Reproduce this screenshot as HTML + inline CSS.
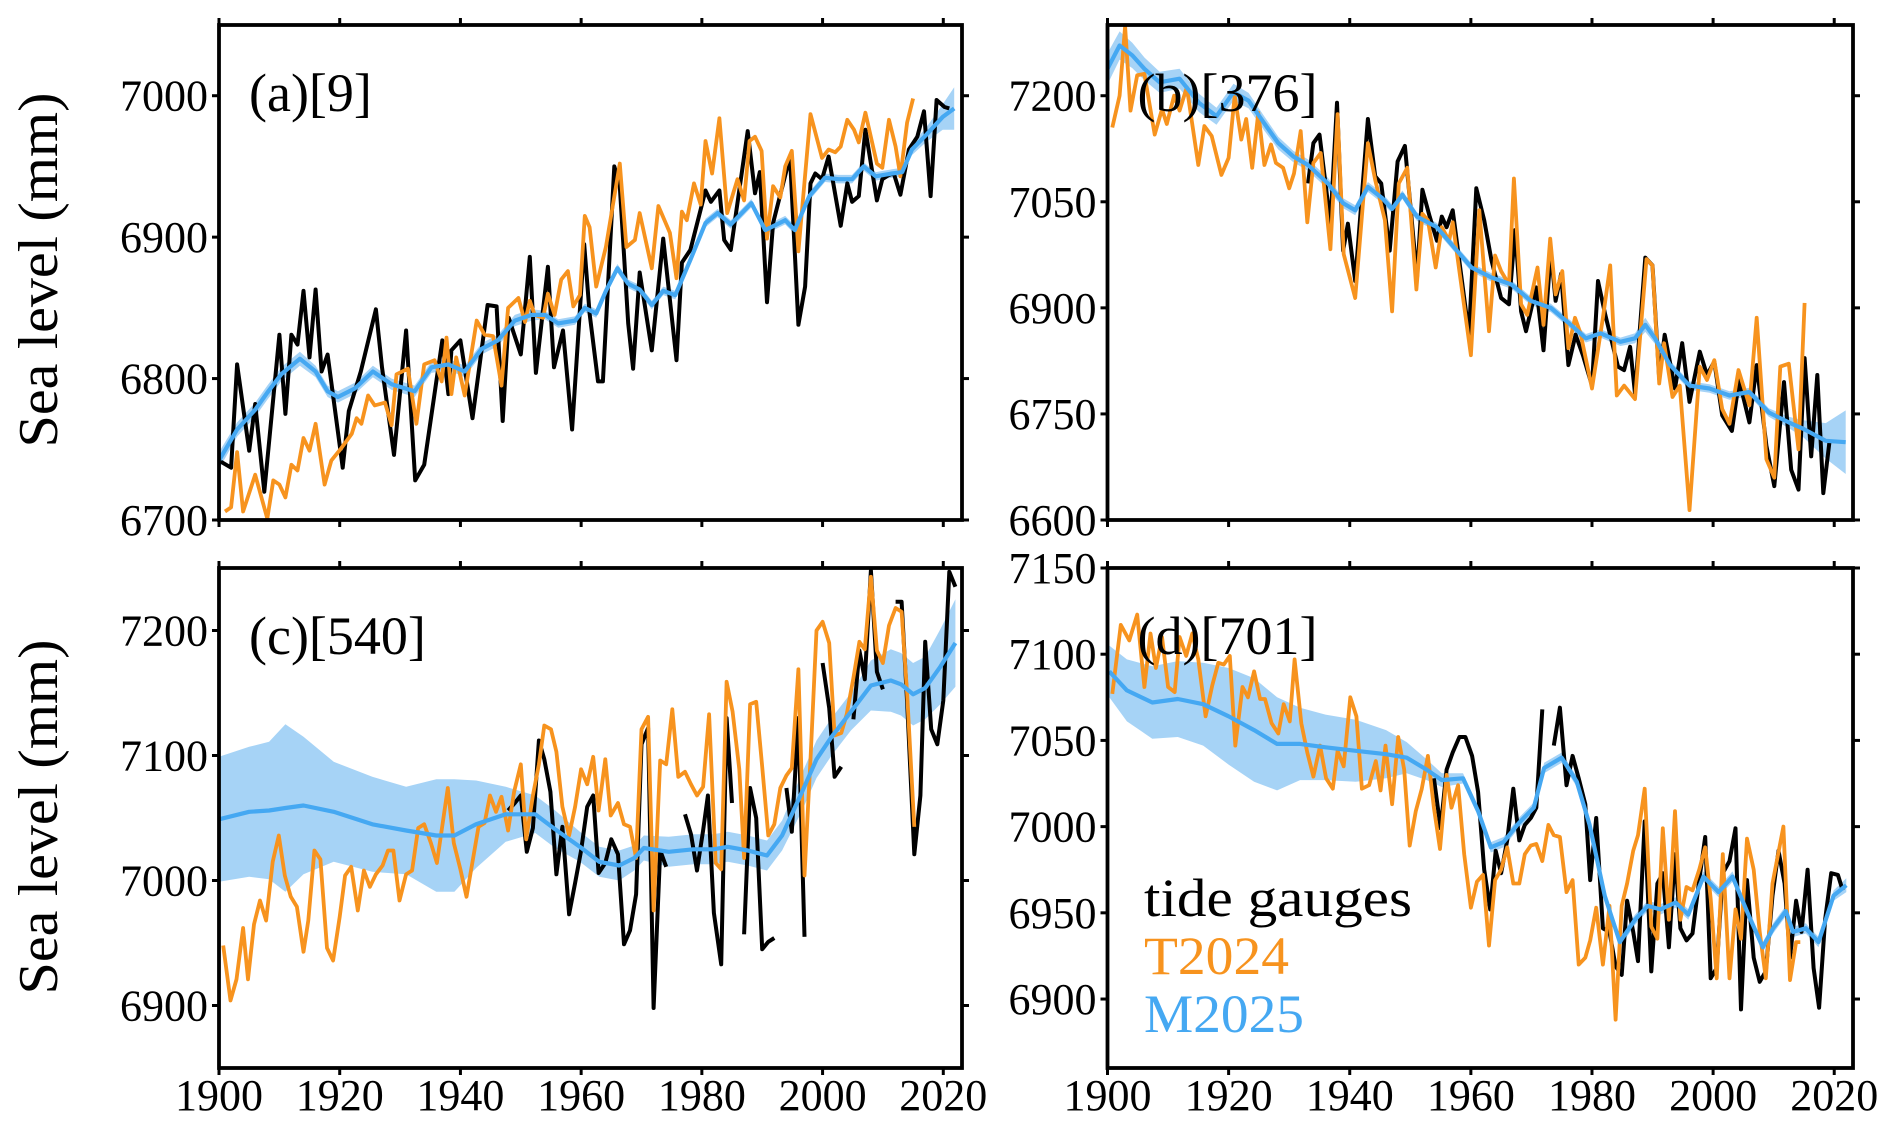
<!DOCTYPE html>
<html><head><meta charset="utf-8"><title>Sea level comparison</title>
<style>
html,body{margin:0;padding:0;background:#fff;}
svg{display:block;}
svg text{font-family:"Liberation Serif","DejaVu Serif",serif;}
</style></head>
<body>
<svg id="chart" width="1892" height="1121" viewBox="0 0 1892 1121" xmlns="http://www.w3.org/2000/svg" font-family="Liberation Serif, serif">
<text font-family="Liberation Serif, serif" transform="translate(57,270) rotate(-90)" text-anchor="middle" font-size="56" textLength="355" lengthAdjust="spacingAndGlyphs">Sea level (mm)</text>
<text font-family="Liberation Serif, serif" transform="translate(57,817) rotate(-90)" text-anchor="middle" font-size="56" textLength="355" lengthAdjust="spacingAndGlyphs">Sea level (mm)</text>
<g id="legend" font-family="Liberation Serif, serif">
<text x="1144" y="916" font-size="54" fill="#000" textLength="268" lengthAdjust="spacingAndGlyphs">tide gauges</text>
<text x="1144" y="974" font-size="54" fill="#F7931E" textLength="145" lengthAdjust="spacingAndGlyphs">T2024</text>
<text x="1144" y="1032" font-size="54" fill="#45A8F2" textLength="160" lengthAdjust="spacingAndGlyphs">M2025</text>
</g>
</svg>
<script>
// ---------- Panel (a) [9] ----------
const aTgYears=[1900,1902,1903,1905,1906,1907.5,1910,1911,1912,1913,1914,1915,1916,1917,1918,1920.5,1921.5,1923.5,1926,1927,1929,1931,1932.5,1934,1937,1938,1938.5,1940,1942,1944.5,1946,1947,1948,1950,1951.5,1952.5,1954.5,1955.5,1957,1958.5,1960.5,1961.4,1962.8,1963.6,1965.5,1966.4,1967.8,1968.6,1969.7,1971.7,1973.6,1975.8,1976.7,1978.1,1980.6,1981.5,1982.9,1983.7,1984.8,1987.6,1988.8,1989.6,1990.8,1991.8,1994.6,1996,1997.1,1998,1998.8,1999.9,2001,2003,2004.1,2004.9,2006,2007.1,2009,2009.9,2011,2011.8,2012.9,2014.3,2015.7,2016.8,2017.9,2018.9,2020.2,2021];
const aTgVals=[6742,6737,6810,6749,6782,6720,6831,6775,6831,6824,6862,6815,6863,6805,6817,6737,6777,6805,6849,6808,6746,6834,6728,6739,6827,6789,6820,6827,6772,6852,6851,6770,6843,6817,6886,6804,6879,6808,6834,6764,6895,6846,6798,6798,6950,6936,6839,6807,6875,6820,6899,6813,6882,6891,6933,6925,6933,6898,6891,6975,6931,6946,6854,6910,6957,6838,6865,6938,6945,6941,6957,6908,6938,6925,6929,6976,6926,6941,6944,6945,6930,6962,6971,6989,6929,6997,6992,6991];
const aT24Years=[1901,1902,1903,1904,1906,1908,1909,1910,1911,1912,1913,1914,1915,1916,1917.5,1918.6,1920.3,1922,1922.8,1923.6,1924.7,1925.8,1927.5,1928.6,1929.4,1931.3,1932.7,1934,1935.7,1936.9,1937.7,1938.5,1939.3,1940.7,1942.7,1944,1945.4,1946.8,1947.9,1949.6,1950.7,1951.5,1952.3,1953.7,1954.5,1955.6,1956.7,1957.8,1958.7,1959.8,1960.6,1961.4,1962.5,1964.1,1966.4,1967.5,1968.9,1969.7,1971.7,1972.8,1974.7,1975.8,1976.7,1977.5,1978.7,1979.8,1980.6,1981.7,1982.9,1984.2,1985.9,1987,1987.9,1988.8,1989.9,1990.8,1991.8,1993,1993.8,1994.9,1996,1998,1999.9,2001,2002.1,2003,2004.1,2005.2,2006,2007.1,2009,2009.9,2011,2012.1,2012.9,2014,2015];
const aT24Vals=[6706,6709,6748,6706,6732,6701,6728,6725,6716,6739,6735,6758,6749,6768,6725,6742,6751,6761,6772,6768,6788,6781,6783,6767,6803,6807,6768,6810,6813,6798,6829,6789,6815,6788,6841,6831,6830,6795,6850,6857,6840,6855,6845,6843,6860,6845,6870,6876,6851,6859,6915,6907,6865,6893,6952,6893,6898,6917,6878,6922,6903,6871,6918,6912,6938,6923,6968,6945,6984,6917,6941,6926,6968,6971,6961,6899,6936,6928,6950,6961,6890,6987,6956,6962,6960,6964,6983,6976,6967,6988,6952,6949,6983,6964,6943,6981,6998];
const aMYears=[1900,1903,1906,1908,1910.3,1913.4,1916,1918,1919.7,1922.5,1925.5,1928.6,1932.4,1935.2,1938,1940.7,1943.5,1946.2,1949,1951.8,1954,1956.2,1959,1960.6,1962.5,1964.1,1966,1967.8,1969.7,1971.7,1973.6,1975.6,1978.1,1980.6,1982.6,1984.8,1988.2,1990.5,1993.8,1995.4,1997.8,2000.4,2002.6,2004.9,2006.8,2008.8,2011.5,2013.2,2014.8,2017.1,2019.9,2021.8];
const aMVals=[6742,6764,6778,6790,6803,6814,6805,6791,6787,6793,6805,6796,6791,6808,6810,6805,6821,6827,6841,6845,6845,6839,6841,6850,6846,6862,6878,6867,6863,6852,6862,6859,6884,6910,6917,6909,6924,6905,6912,6905,6929,6942,6941,6941,6950,6943,6945,6946,6962,6972,6985,6991];
const aMHalf=[6,5,5,5,5,5,4,4,4,4,4,4,4,4,4,4,4,4,4,4,3,3,3,3,3,3,3,3,3,3,3,3,3,3,3,3,3,3,3,3,3,3,3,3,3,3,3,3,4,5,9,15];

// ---------- Panel (b) [376] ----------
const bTgYears=[1933.1,1934,1935,1936.8,1937.9,1938.9,1939.7,1940.9,1943,1944.2,1945.2,1946.6,1947.9,1949.1,1951.1,1952,1953.2,1954.4,1955.2,1956,1957,1959.7,1960.9,1962.2,1963.4,1965,1966.3,1967.3,1968.3,1969.1,1970.8,1972,1973.2,1974,1974.9,1976.1,1977.3,1978.5,1980,1981,1982.2,1984.3,1985.3,1986.3,1987.1,1988.8,1990,1991.1,1992,1993.7,1994.9,1996.1,1997.8,1999,2000.2,2001.5,2003.1,2004.3,2006,2007.2,2008.8,2010.1,2011.7,2012.9,2014.1,2015.1,2016.2,2017.2,2018.2,2019.2];
const bTgVals=[7076,7133,7145,7019,7190,6981,7019,6938,7167,7086,7076,6981,7107,7129,6943,7067,7029,6995,7029,7014,7038,6862,7069,7024,6967,6914,6905,7010,6895,6867,6929,6840,6981,6910,6948,6819,6862,6833,6790,6938,6890,6817,6812,6845,6779,6971,6960,6800,6862,6786,6850,6767,6838,6805,6824,6748,6726,6798,6738,6819,6705,6648,6795,6671,6643,6829,6690,6805,6638,6710];
const bT24Years=[1900.8,1902,1902.9,1903.8,1904.9,1906.1,1907.8,1909,1909.8,1911,1911.9,1913.1,1915,1916,1917.2,1918.8,1920,1921,1922.1,1922.9,1923.9,1924.9,1925.9,1927,1927.8,1929,1930,1930.8,1931.9,1933,1934,1935.2,1936.8,1938,1939,1940.9,1943,1944.2,1945.8,1947,1948.1,1949.5,1951,1952,1952.9,1954.2,1955.2,1956.4,1957,1960,1961.4,1963,1964,1965,1966.3,1967.1,1968.3,1969.3,1971,1972,1973.1,1974,1975.1,1976.1,1977.2,1978.1,1980,1981.8,1983,1984.1,1985.3,1987.1,1989,1990,1991.1,1991.9,1993.3,1994.5,1996.1,1997.8,1999,2000.2,2001.5,2002.7,2004.2,2006,2007.2,2008.8,2010.1,2011.1,2012.5,2014.1,2015.1];
const bT24Vals=[7155,7200,7298,7179,7229,7231,7145,7181,7160,7200,7179,7212,7102,7157,7143,7088,7112,7200,7138,7167,7098,7176,7102,7131,7105,7098,7069,7090,7150,7021,7105,7119,6983,7174,6976,6914,7133,7081,7024,6895,7076,7098,6926,7033,7024,6957,7014,6995,7021,6833,7038,6867,6974,6952,6933,7083,6905,6890,6957,6876,6998,6919,6952,6843,6886,6864,6786,6886,6960,6776,6790,6771,6969,6960,6793,6850,6774,6790,6614,6817,6798,6826,6757,6736,6812,6762,6886,6686,6660,6817,6821,6700,6907];
const bMYears=[1900,1902,1904.1,1906.1,1908.6,1911.9,1915.1,1918,1920.8,1923.3,1925.8,1928.2,1930.7,1933.1,1936.4,1938.9,1940.9,1943,1945.4,1947,1948.7,1951.1,1954.4,1957.7,1960.1,1963.4,1966.7,1969.9,1973.2,1976.5,1979,1981.4,1984.7,1987.1,1988.8,1990.4,1992.9,1996.1,1999.4,2002.7,2006,2009.2,2012.5,2014.9,2018.6,2021.9];
const bMVals=[7238,7271,7257,7238,7219,7224,7190,7171,7205,7193,7162,7133,7114,7102,7076,7048,7038,7071,7055,7040,7060,7029,7014,6981,6957,6943,6933,6910,6900,6876,6857,6864,6852,6857,6876,6857,6819,6790,6786,6776,6781,6752,6738,6729,6712,6710];
const bMHalf=[22,20,18,16,15,14,13,12,12,11,10,9,8,8,8,7,7,7,7,6,6,6,6,6,6,6,6,6,6,6,6,6,6,7,10,8,6,6,6,6,6,6,8,12,25,45];

// ---------- Panel (c) [540] ----------
const cTgYears=[1947.9,1949,1950,1951,1952,1953,1953.9,1954.9,1955.9,1956.9,1958,1959,1960,1961,1962,1962.9,1964,1965,1966.1,1967.1,1968.1,1969.1,1970,1971.1,1972,1973.1,1974.1,1975.5,1977.2,1978.2,1979.2,1980.2,1981,1982,1983.2,1984.1,1985,1986,1987,1988,1989,1990,1991,1992,1993,1994,1994.9,1996,1997,1998.5,2000,2001.1,2002,2003.1,2004.5,2005.1,2006.1,2007,2008,2009,2010,2011.5,2012.1,2013.1,2014,2015.2,2016.2,2017,2018,2019,2020,2021,2022];
const cTgVals=[7056,7062,7068,7023,7042,7112,7097,7071,7005,7043,6973,6998,7024,7059,7068,7006,7014,7033,7021,6949,6960,6989,7109,7122,6898,7024,7011,null,7053,7037,7008,7040,7068,6974,6933,7130,7062,null,6957,7074,7050,6945,6951,6954,null,7074,7039,7130,6955,null,7174,7138,7083,7091,null,7129,7184,7161,7248,7167,7153,null,7223,7223,7143,7021,7068,7191,7121,7109,7144,7247,7235];
const cT24Years=[1900.7,1901.9,1902.9,1904,1904.8,1905.8,1906.8,1907.8,1908.9,1909.9,1910.9,1911.9,1912.9,1914,1914.8,1915.8,1916.8,1917.9,1918.9,1920,1920.9,1921.9,1923,1924,1925,1926,1927.1,1928,1928.9,1929.9,1931,1932,1933,1934,1935.1,1936.1,1937.9,1938.9,1940,1941,1942,1943,1944,1944.9,1945.9,1946.8,1947.9,1948.9,1950,1950.9,1952,1953,1953.9,1955,1955.9,1956.9,1958,1959,1960,1961,1962,1962.9,1964,1964.9,1966.1,1967.1,1968.1,1969.1,1970,1971.1,1972,1973.1,1974.1,1975.1,1976.1,1977.2,1978.2,1979.2,1980.2,1981.2,1982.3,1983.2,1984.1,1985.1,1986.2,1987,1988,1989,1990,1991,1992,1993,1994,1994.9,1996,1997,1998,1999,2000,2001.1,2002,2003.1,2004,2005.1,2006.1,2007,2008,2009,2010,2011,2012.1,2013.1,2014,2015.2];
const cT24Vals=[6948,6904,6921,6962,6921,6965,6984,6968,7015,7036,7004,6987,6979,6943,6968,7024,7017,6946,6936,6971,7004,7011,6976,7008,6995,7005,7012,7024,7024,6984,7005,7008,7042,7045,7030,7014,7074,7030,7009,6987,7015,7043,7046,7068,7055,7067,7040,7071,7093,7033,7068,7093,7124,7121,7103,7059,7036,7059,7089,7077,7099,7056,7097,7052,7062,7045,7043,7018,7121,7131,6976,7096,7093,7137,7083,7087,7077,7068,7075,7133,7014,7009,7159,7135,7089,7018,7141,7143,7091,7036,7045,7074,7084,7090,7169,7004,7097,7200,7207,7190,7116,7118,7133,7162,7191,7185,7243,7184,7174,7204,7218,7215,7150,7043];
const cMYears=[1900,1905,1908.3,1911,1914,1919,1925.4,1931,1936,1939,1942.6,1947.5,1952.4,1955.7,1959.8,1963,1966.3,1968.8,1970.4,1974.5,1978.6,1981.9,1984.3,1987.6,1990.8,1993.3,1996.6,1999,2001.5,2004.7,2008,2011.3,2013,2015,2017,2019.5,2022];
const cMVals=[7049,7055,7056,7058,7060,7055,7045,7040,7036,7036,7045,7053,7053,7041,7027,7015,7012,7018,7026,7023,7025,7025,7027,7024,7020,7036,7071,7097,7115,7135,7156,7160,7157,7149,7154,7171,7190];
const cMHalf=[50,52,55,67,55,40,38,35,45,45,35,22,15,15,12,12,12,10,10,12,12,12,12,12,12,12,15,15,15,15,20,25,25,25,25,30,35];

// ---------- Panel (d) [701] ----------
const dTgYears=[1953.9,1955,1956,1957,1958.1,1959.1,1960.2,1961.2,1962.2,1963.2,1964.1,1965,1966,1967,1968,1968.9,1969.9,1970.8,1971.8,1972.8,1973.7,1974.7,1975.8,1976.8,1977.8,1978.9,1979.7,1980.7,1981.8,1982.9,1983.9,1984.9,1985.8,1986.8,1987.6,1988.7,1989.8,1990.8,1991.7,1992.7,1993.7,1994.6,1995.6,1996.6,1997.7,1998.7,1999.6,2000.6,2001.6,2002.7,2003.7,2004.6,2005.6,2006.7,2007.7,2008.7,2009.8,2010.8,2011.8,2012.7,2013.7,2014.6,2015.6,2016.6,2017.5,2018.5,2019.5,2020.6,2021.4];
const dTgVals=[7028,6999,7033,7043,7052,7052,7041,7020,6975,6952,6986,6973,6992,7022,6992,7001,7005,7011,7068,null,7047,7069,7024,7041,7028,7013,6969,7005,6941,6939,6919,6914,6957,6939,6922,7003,6916,6967,6973,6930,6984,6941,6934,6938,6969,6994,6912,6918,6973,6980,6999,6894,6969,6924,6910,6916,6960,6986,6967,6924,6957,6939,6975,6918,6895,6946,6973,6972,6963];
const dT24Years=[1900.8,1902.2,1903.6,1904.9,1906.1,1907.1,1908,1909,1910,1911.1,1911.9,1913,1914,1915,1916.2,1917.3,1918.3,1919.2,1920.2,1921.1,1922.3,1923.2,1924.2,1925.2,1926,1927.1,1928.2,1929.1,1930.1,1930.9,1932,1933,1934,1935.1,1936.1,1937.2,1938,1939,1940.1,1941.1,1942,1943.2,1944.3,1945.1,1945.9,1947,1948,1949,1949.9,1950.9,1951.9,1952.9,1953.9,1954.9,1956,1956.8,1957.9,1958.9,1960,1961,1962,1963,1964,1965,1966,1967,1968,1968.9,1969.9,1970.8,1971.8,1972.8,1973.7,1974.7,1975.8,1976.8,1977.8,1978.9,1979.7,1980.7,1981.8,1982.9,1983.9,1984.9,1985.8,1986.8,1987.6,1988.7,1989.8,1990.8,1991.7,1992.7,1993.7,1994.6,1995.6,1996.6,1997.7,1998.7,1999.6,2000.6,2001.6,2002.7,2003.7,2004.6,2005.6,2006.7,2007.7,2008.7,2009.8,2011.6,2012.7,2013.7,2014.4];
const dT24Vals=[7077,7117,7108,7123,7081,7112,7092,7110,7081,7078,7110,7099,7112,7097,7064,7082,7095,7094,7099,7047,7081,7075,7090,7074,7074,7060,7054,7071,7061,7097,7060,7043,7029,7047,7028,7022,7044,7035,7075,7064,7022,7024,7038,7021,7047,7013,7052,7033,6989,7009,7022,7041,7011,6987,7030,7011,7024,6984,6953,6968,6972,6931,6969,6975,6988,6967,6967,6984,6989,6990,6980,7001,6995,6994,6962,6969,6920,6924,6934,6953,6920,6954,6888,6954,6967,6986,6995,7022,6942,6935,6999,6946,7009,6946,6965,6963,6975,6988,6958,6912,6984,6912,6952,6935,6993,6975,6939,6912,6967,7000,6911,6933,6933];
const dMYears=[1900.3,1903.2,1907.4,1911.6,1915.8,1920,1924.2,1928,1931.8,1936,1941,1946,1949.4,1952.7,1955.2,1958.7,1961.2,1963.3,1965.4,1967.9,1970.4,1972.1,1975,1977.5,1979.6,1982.1,1984.6,1987.1,1989.2,1991.3,1993.8,1995.9,1998.4,2000.9,2003.2,2005.7,2008.2,2009.9,2012,2013.2,2015.3,2017.4,2019.9,2022];
const dMVals=[7090,7079,7072,7074,7071,7064,7056,7048,7048,7046,7044,7042,7040,7033,7027,7028,7009,6988,6991,7002,7011,7034,7040,7026,7001,6960,6933,6946,6954,6952,6956,6949,6971,6962,6971,6950,6930,6941,6951,6939,6941,6933,6960,6966];
const dMHalf=[15,18,21,22,24,28,30,27,21,19,18,14,9,6,4,3,3,3,3,3,3,3,3,3,3,3,3,3,3,3,3,3,3,3,3,3,3,3,3,3,3,3,3,4];

// ---------- axis tick labels ----------
const aTicks=[6700,6800,6900,7000];
const bTicks=[6600,6750,6900,7050,7200];
const cTicks=[6900,7000,7100,7200];
const dTicks=[6900,6950,7000,7050,7100,7150];
const xTicks=[1900,1920,1940,1960,1980,2000,2020];

const NS='http://www.w3.org/2000/svg';
const svg=document.getElementById('chart');
const C_TG='#000000', C_T24='#F7931E', C_M='#45A8F2', C_BAND='#A6D3F6';
const FONT='Liberation Serif, serif';

function mk(tag,attrs,parent){const e=document.createElementNS(NS,tag);for(const k in attrs)e.setAttribute(k,attrs[k]);(parent||svg).appendChild(e);return e;}

const panels=[
 {id:'a',label:'(a)[9]',x0:219,x1:962,y0:25,y1:520,ymin:6700,ymax:7050,ticks:aTicks,tg:[aTgYears,aTgVals],t24:[aT24Years,aT24Vals],m:[aMYears,aMVals,aMHalf],xlab:false},
 {id:'b',label:'(b)[376]',x0:1107.5,x1:1853,y0:25,y1:520,ymin:6600,ymax:7300,ticks:bTicks,tg:[bTgYears,bTgVals],t24:[bT24Years,bT24Vals],m:[bMYears,bMVals,bMHalf],xlab:false},
 {id:'c',label:'(c)[540]',x0:219,x1:962,y0:568,y1:1068,ymin:6850,ymax:7250,ticks:cTicks,tg:[cTgYears,cTgVals],t24:[cT24Years,cT24Vals],m:[cMYears,cMVals,cMHalf],xlab:true},
 {id:'d',label:'(d)[701]',x0:1107.5,x1:1853,y0:568,y1:1068,ymin:6860,ymax:7150,ticks:dTicks,tg:[dTgYears,dTgVals],t24:[dT24Years,dT24Vals],m:[dMYears,dMVals,dMHalf],xlab:true}
];
const XMIN=1900, XMAX=2023.1;

panels.forEach(p=>{
  const g=mk('g',{'font-family':FONT});
  
  
  const clipId='clip-'+p.id;
  const cp=mk('clipPath',{id:clipId},g);
  mk('rect',{x:p.x0,y:p.y0,width:p.x1-p.x0,height:p.y1-p.y0},cp);
  const xs=v=>p.x0+(v-XMIN)/(XMAX-XMIN)*(p.x1-p.x0);
  const ys=v=>p.y1-(v-p.ymin)/(p.ymax-p.ymin)*(p.y1-p.y0);
  const plot=mk('g',{'clip-path':'url(#'+clipId+')'},g);
  const [my,mv,mh]=p.m;
  let bd='';
  for(let i=0;i<my.length;i++) bd+=(i?'L':'M')+xs(my[i]).toFixed(1)+','+ys(mv[i]+mh[i]).toFixed(1);
  for(let i=my.length-1;i>=0;i--) bd+='L'+xs(my[i]).toFixed(1)+','+ys(mv[i]-mh[i]).toFixed(1);
  const band=mk('path',{d:bd+'Z',fill:C_BAND,stroke:'none'},plot);
  
  
  function linePath(yrs,vals){let d='',pen=false;for(let i=0;i<yrs.length;i++){if(vals[i]===null){pen=false;continue;}d+=(pen?'L':'M')+xs(yrs[i]).toFixed(1)+','+ys(vals[i]).toFixed(1);pen=true;}return d;}
  const tg=mk('path',{d:linePath(p.tg[0],p.tg[1]),fill:'none',stroke:C_TG,'stroke-width':4,'stroke-linejoin':'round'},plot);
  
  
  const t24=mk('path',{d:linePath(p.t24[0],p.t24[1]),fill:'none',stroke:C_T24,'stroke-width':3.8,'stroke-linejoin':'round'},plot);
  
  
  const ml=mk('path',{d:linePath(my,mv),fill:'none',stroke:C_M,'stroke-width':4.2,'stroke-linejoin':'round'},plot);
  
  
  const fr=mk('rect',{x:p.x0,y:p.y0,width:p.x1-p.x0,height:p.y1-p.y0,fill:'none',stroke:'#000','stroke-width':3.8},g);
  
  
  p.ticks.forEach(t=>{
    const y=ys(t);
    mk('line',{x1:p.x0-7,x2:p.x0,y1:y,y2:y,stroke:'#000','stroke-width':3},g);
    mk('line',{x1:p.x1,x2:p.x1+7,y1:y,y2:y,stroke:'#000','stroke-width':3},g);
    const tl=mk('text',{x:p.x0-11,y:y+15,'text-anchor':'end','font-size':44,'font-family':FONT},g);
    
    
    tl.textContent=t;
  });
  xTicks.forEach(t=>{
    const x=xs(t);
    mk('line',{x1:x,x2:x,y1:p.y1,y2:p.y1+7,stroke:'#000','stroke-width':3},g);
    mk('line',{x1:x,x2:x,y1:p.y0-7,y2:p.y0,stroke:'#000','stroke-width':3},g);
    if(p.xlab){
      const xl=mk('text',{x:x,y:1110,'text-anchor':'middle','font-size':44,'font-family':FONT},g);
      
      
      xl.textContent=t;
    }
  });
  const pl=mk('text',{x:p.x0+30,y:p.y0+86,'font-size':54,'font-family':FONT},g);
  
  
  pl.textContent=p.label;
});
svg.appendChild(document.getElementById('legend'));
</script>
</body></html>
